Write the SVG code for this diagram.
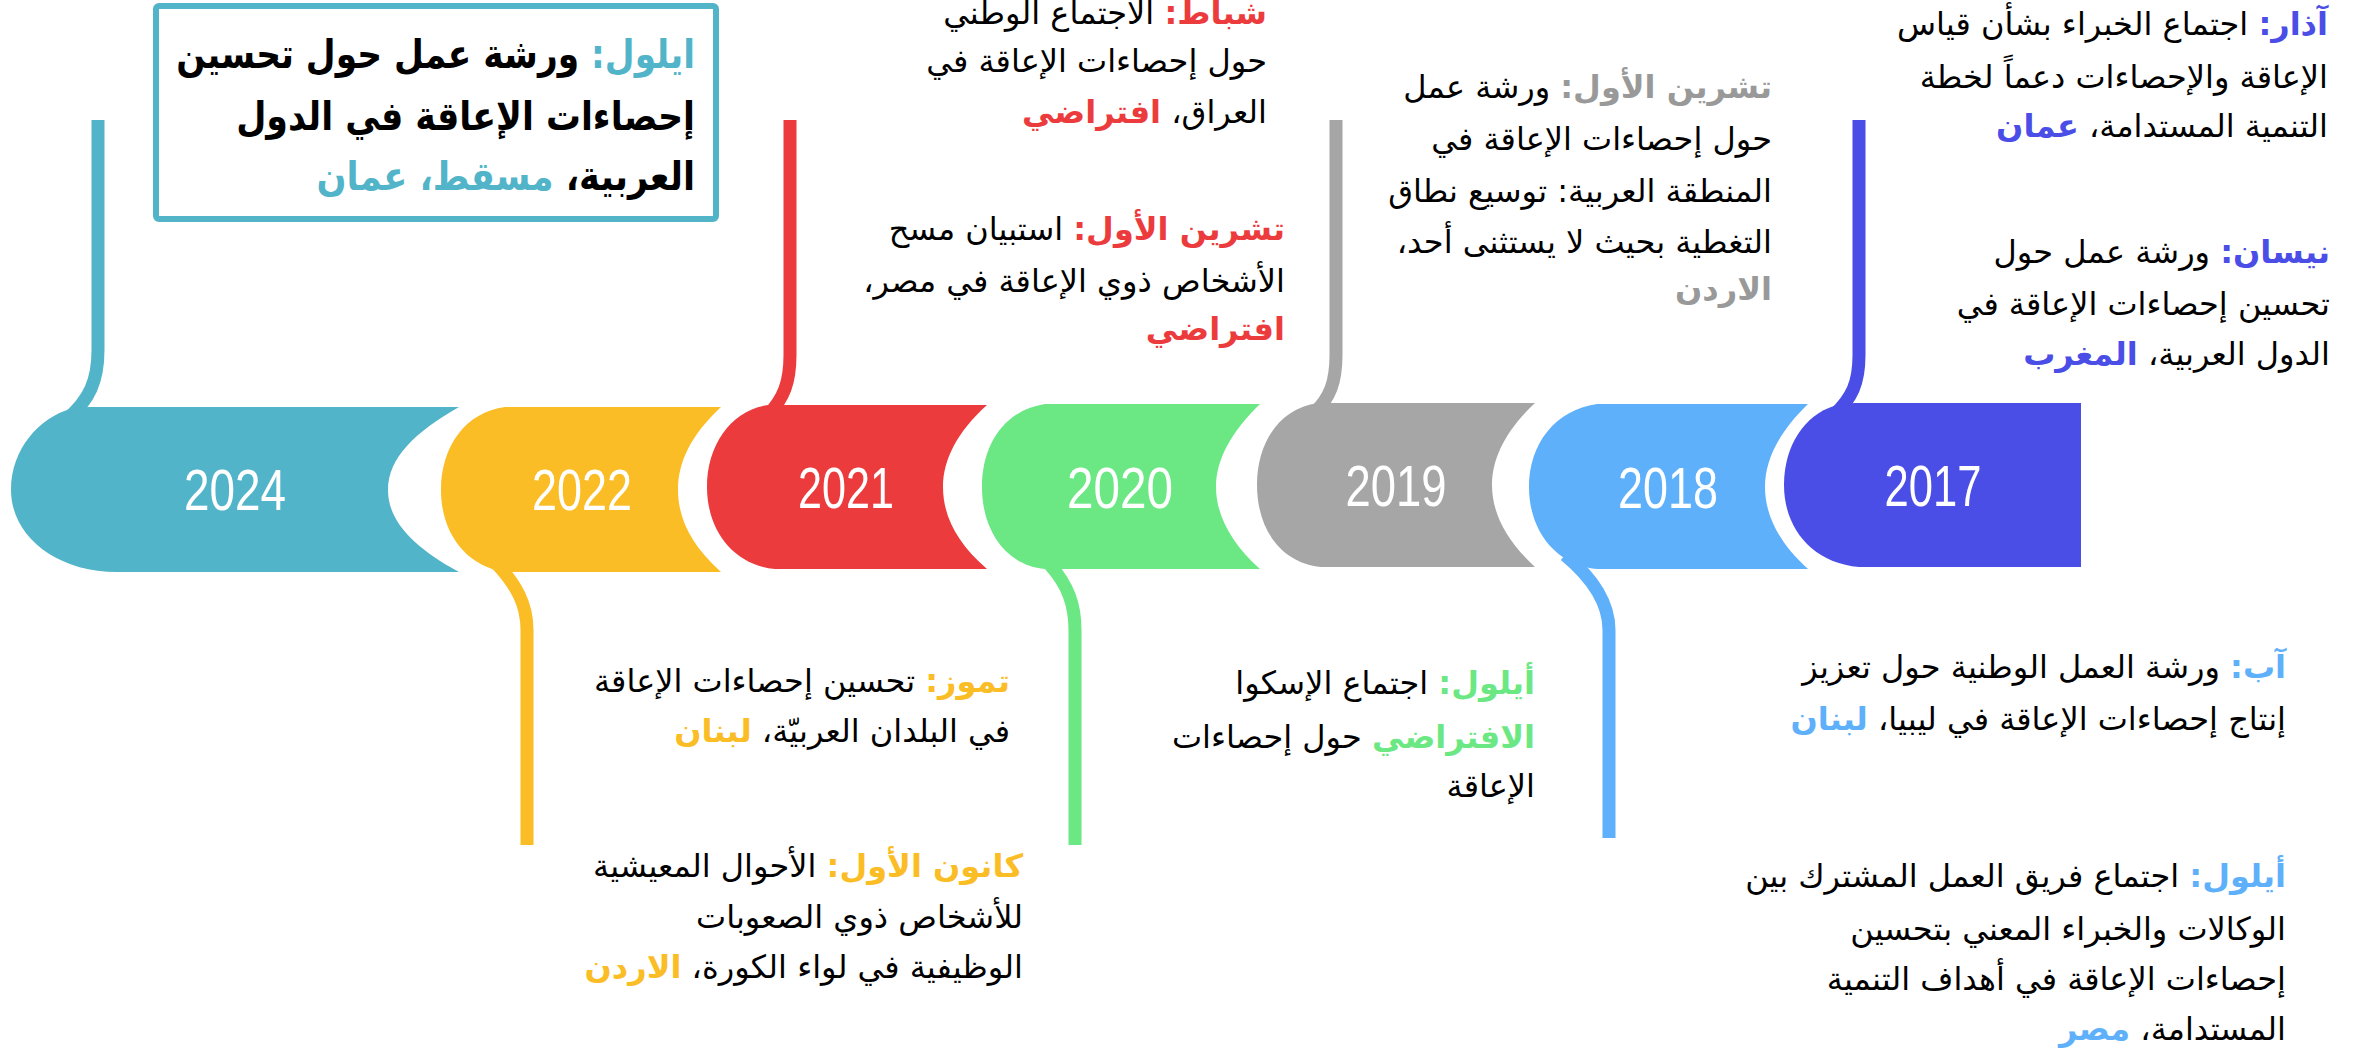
<svg xmlns="http://www.w3.org/2000/svg" width="2366" height="1051" viewBox="0 0 2366 1051">
<style>
.yr{font-family:"Liberation Sans",sans-serif;font-size:57px;fill:#fff;text-anchor:middle}
.ar{font-family:"DejaVu Sans","Noto Sans",sans-serif;font-size:32px;fill:#000;direction:rtl;text-anchor:start}
.big{font-size:40px;font-weight:bold}
.b{font-weight:bold}
.stem{fill:none;stroke-width:13}
.c1{fill:#52B4C8}.c2{fill:#FBBD25}.c3{fill:#EC3B3D}.c4{fill:#6BE883}.c5{fill:#999999}.c6{fill:#5EB0FB}.c7{fill:#4A4DE6}
</style>
<rect width="2366" height="1051" fill="#fff"/>
<g id="connectors">
<path class="stem" stroke="#52B4C8" d="M98,120 L98,350 C98,380 90,400 66,420"/>
<path class="stem" stroke="#FBBD25" d="M527,845 L527,630 C527,605 517,585 495,562"/>
<path class="stem" stroke="#EC3B3D" d="M790,120 L790,355 C790,382 784,398 768,415"/>
<path class="stem" stroke="#6BE883" d="M1075,845 L1075,630 C1075,605 1068,585 1050,565"/>
<path class="stem" stroke="#A6A6A6" d="M1336,120 L1336,355 C1336,382 1330,398 1314,413"/>
<path class="stem" stroke="#5EB0FB" d="M1609,838 L1609,630 C1609,605 1595,580 1565,555"/>
<path class="stem" stroke="#4A4DE6" d="M1859,120 L1859,355 C1859,383 1852,398 1834,415"/>
</g>
<g id="y2024">
<path fill="#52B4C8" d="M89,407 L459,407 C415,432 388,458 388,490 C388,522 415,548 459,572 L117,572 C55,572 11,535 11,490 C11,448 40,418 70,409 Z"/>
<text class="yr" x="235" y="510" textLength="102" lengthAdjust="spacingAndGlyphs">2024</text>
</g>
<g id="y2022">
<path fill="#FBBD25" d="M505,407 L721,407 C691,435 678,462 678,490 C678,518 691,545 721,572 L505,572 C465,566 441,532 441,490 C441,446 466,412 505,407 Z"/>
<text class="yr" x="582" y="510" textLength="100" lengthAdjust="spacingAndGlyphs">2022</text>
</g>
<g id="y2021">
<path fill="#EC3B3D" d="M768,405 L987,405 C957,432 943,460 943,487 C943,516 957,543 987,569 L775,569 C733,565 707,530 707,487 C707,444 732,410 768,405 Z"/>
<text class="yr" x="846" y="508" textLength="96" lengthAdjust="spacingAndGlyphs">2021</text>
</g>
<g id="y2020">
<path fill="#6BE883" d="M1045,404 L1260,404 C1231,432 1216,460 1216,487 C1216,515 1231,543 1260,569 L1045,569 C1005,565 982,530 982,487 C982,444 1005,410 1045,404 Z"/>
<text class="yr" x="1120" y="508" textLength="106" lengthAdjust="spacingAndGlyphs">2020</text>
</g>
<g id="y2019">
<path fill="#A6A6A6" d="M1318,403 L1535,403 C1506,430 1492,458 1492,485 C1492,513 1506,540 1535,567 L1321,567 C1280,563 1257,528 1257,485 C1257,442 1280,408 1318,403 Z"/>
<text class="yr" x="1396" y="506" textLength="101" lengthAdjust="spacingAndGlyphs">2019</text>
</g>
<g id="y2018">
<path fill="#5EB0FB" d="M1597,404 L1808,404 C1779,432 1765,460 1765,487 C1765,515 1779,543 1808,569 L1597,569 C1555,565 1529,530 1529,487 C1529,444 1555,410 1597,404 Z"/>
<text class="yr" x="1668" y="508" textLength="100" lengthAdjust="spacingAndGlyphs">2018</text>
</g>
<g id="y2017">
<path fill="#4A4DE6" d="M1854,403 L2081,403 L2081,567 L1859,567 C1812,563 1784,528 1784,485 C1784,445 1805,415 1834,406 Z"/>
<text class="yr" x="1933" y="506" textLength="97" lengthAdjust="spacingAndGlyphs">2017</text>
</g>
<g id="n2024">
<rect x="156" y="6" width="560" height="213" rx="3" fill="none" stroke="#52B4C8" stroke-width="6"/>
<text class="ar big" transform="translate(695,68) scale(0.86,1)" x="0" y="0"><tspan class="c1">ايلول:</tspan> ورشة عمل حول تحسين</text>
<text class="ar big" transform="translate(695,130) scale(0.87,1)" x="0" y="0">إحصاءات الإعاقة في الدول</text>
<text class="ar big" transform="translate(695,190) scale(0.88,1)" x="0" y="0">العربية، <tspan class="c1">مسقط، عمان</tspan></text>
</g>
<g id="n2021">
<text class="ar" x="1267" y="24"><tspan class="c3 b">شباط:</tspan> الاجتماع الوطني</text>
<text class="ar" x="1267" y="72">حول إحصاءات الإعاقة في</text>
<text class="ar" x="1267" y="123">العراق، <tspan class="c3 b">افتراضي</tspan></text>
<text class="ar" x="1285" y="240"><tspan class="c3 b">تشرين الأول:</tspan> استبيان مسح</text>
<text class="ar" x="1285" y="292">الأشخاص ذوي الإعاقة في مصر،</text>
<text class="ar" x="1285" y="340"><tspan class="c3 b">افتراضي</tspan></text>
</g>
<g id="n2019">
<text class="ar" x="1772" y="98"><tspan class="c5 b">تشرين الأول:</tspan> ورشة عمل</text>
<text class="ar" x="1772" y="150">حول إحصاءات الإعاقة في</text>
<text class="ar" x="1772" y="202">المنطقة العربية: توسيع نطاق</text>
<text class="ar" x="1772" y="253">التغطية بحيث لا يستثنى أحد،</text>
<text class="ar" x="1772" y="300"><tspan class="c5 b">الاردن</tspan></text>
</g>
<g id="n2017">
<text class="ar" x="2328" y="35"><tspan class="c7 b">آذار:</tspan> اجتماع الخبراء بشأن قياس</text>
<text class="ar" x="2328" y="88">الإعاقة والإحصاءات دعماً لخطة</text>
<text class="ar" x="2328" y="137">التنمية المستدامة، <tspan class="c7 b">عمان</tspan></text>
<text class="ar" x="2330" y="263"><tspan class="c7 b">نيسان:</tspan> ورشة عمل حول</text>
<text class="ar" x="2330" y="315">تحسين إحصاءات الإعاقة في</text>
<text class="ar" x="2330" y="365">الدول العربية، <tspan class="c7 b">المغرب</tspan></text>
</g>
<g id="n2022">
<text class="ar" x="1010" y="692"><tspan class="c2 b">تموز:</tspan> تحسين إحصاءات الإعاقة</text>
<text class="ar" x="1010" y="742">في البلدان العربيّة، <tspan class="c2 b">لبنان</tspan></text>
<text class="ar" x="1023" y="877"><tspan class="c2 b">كانون الأول:</tspan> الأحوال المعيشية</text>
<text class="ar" x="1023" y="928">للأشخاص ذوي الصعوبات</text>
<text class="ar" x="1023" y="978">الوظيفية في لواء الكورة، <tspan class="c2 b">الاردن</tspan></text>
</g>
<g id="n2020">
<text class="ar" x="1535" y="694"><tspan class="c4 b">أيلول:</tspan> اجتماع الإسكوا</text>
<text class="ar" x="1535" y="748"><tspan class="c4 b">الافتراضي</tspan> حول إحصاءات</text>
<text class="ar" x="1535" y="797">الإعاقة</text>
</g>
<g id="n2018">
<text class="ar" x="2286" y="678"><tspan class="c6 b">آب:</tspan> ورشة العمل الوطنية حول تعزيز</text>
<text class="ar" x="2286" y="730">إنتاج إحصاءات الإعاقة في ليبيا، <tspan class="c6 b">لبنان</tspan></text>
<text class="ar" x="2286" y="887"><tspan class="c6 b">أيلول:</tspan> اجتماع فريق العمل المشترك بين</text>
<text class="ar" x="2286" y="940">الوكالات والخبراء المعني بتحسين</text>
<text class="ar" x="2286" y="990">إحصاءات الإعاقة في أهداف التنمية</text>
<text class="ar" x="2286" y="1040">المستدامة، <tspan class="c6 b">مصر</tspan></text>
</g>
</svg>
